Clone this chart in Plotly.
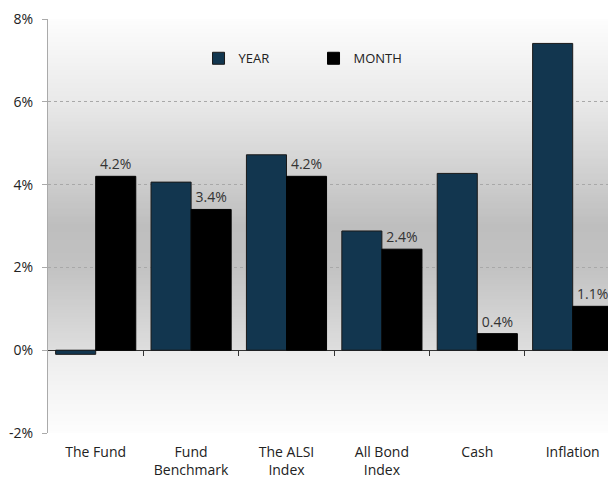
import plotly.graph_objects as go

categories = ["The Fund", "Fund<br>Benchmark", "The ALSI<br>Index", "All Bond<br>Index", "Cash", "Inflation"]
year_values = [-0.1, 4.06, 4.72, 2.88, 4.27, 7.41]
month_values = [4.2, 3.4, 4.2, 2.44, 0.4, 1.06]
month_labels = ["4.2%", "3.4%", "4.2%", "2.4%", "0.4%", "1.1%"]
y_ticks = [-2, 0, 2, 4, 6, 8]
y_tick_labels = ["-2%", "0%", "2%", "4%", "6%", "8%"]

FONT = "'Open Sans', Lato, sans-serif"

fig = go.Figure()
fig.add_trace(go.Bar(
    name="YEAR", x=categories, y=year_values,
    marker=dict(color="#12364f", line=dict(color="#1a1a1a", width=1)),
    hoverinfo="skip",
))
fig.add_trace(go.Bar(
    name="MONTH", x=categories, y=month_values,
    marker=dict(color="#000000", line=dict(color="#000000", width=1)),
    text=month_labels, textposition="outside", cliponaxis=False,
    textfont=dict(size=14, color="#333333", family=FONT),
    hoverinfo="skip",
))
# helper invisible trace for the tick axis at zero
fig.add_trace(go.Scatter(x=[None], y=[None], xaxis="x2", yaxis="y",
                         showlegend=False, hoverinfo="skip"))

# background gradient (styling only)
stops = [(-2.0, 253), (-1.0, 245), (-0.01, 236), (0.0, 222), (1.0, 208),
         (2.0, 194), (3.0, 190), (4.0, 204), (6.0, 233), (8.0, 253)]

def gray_at(v):
    for (a, ga), (b, gb) in zip(stops[:-1], stops[1:]):
        if a <= v <= b:
            t = (v - a) / (b - a) if b > a else 0
            return int(round(ga + (gb - ga) * t))
    return 255

shapes = []
step = 0.05
n = int(round(10 / step))
for i in range(n):
    y0 = -2 + i * step
    y1 = min(y0 + 2 * step, 8)
    g = gray_at(y0 + step / 2)
    shapes.append(dict(type="rect", xref="paper", yref="y", x0=0, x1=1,
                       y0=y0, y1=y1, layer="below", line=dict(width=0),
                       fillcolor=f"rgb({g},{g},{g})"))

fig.update_layout(
    width=608, height=475,
    margin=dict(l=40, r=0, t=11, b=50),
    paper_bgcolor="white", plot_bgcolor="white",
    barmode="group", bargap=0.16, bargroupgap=0,
    font=dict(family=FONT, size=14, color="#222222"),
    showlegend=True,
    legend=dict(orientation="h", x=0.265, y=0.905, xanchor="left", yanchor="middle",
                bgcolor="rgba(0,0,0,0)", font=dict(size=13, color="#222222"),
                itemwidth=30, entrywidth=70, entrywidthmode="pixels"),
    shapes=shapes,
    xaxis=dict(range=[-0.5, 5.454], showgrid=False, showline=False, ticks="",
               tickfont=dict(size=14, color="#222222"), zeroline=False,
               ticklabelstandoff=9, fixedrange=True),
    xaxis2=dict(range=[-0.5, 5.454], overlaying="x", anchor="free",
                position=(0 - (-2)) / 10, side="bottom",
                showgrid=False, showline=False, zeroline=False,
                tickmode="array", tickvals=[0.5, 1.5, 2.5, 3.5, 4.5],
                ticks="outside", ticklen=5, tickcolor="#333333", tickwidth=1,
                showticklabels=False),
    yaxis=dict(range=[-2, 8], tickmode="array", tickvals=y_ticks, ticktext=y_tick_labels,
               showgrid=True, gridcolor="#a8a8a8", griddash="dot", gridwidth=1,
               zeroline=True, zerolinecolor="#333333", zerolinewidth=1,
               showline=True, linecolor="#aaaaaa", linewidth=1,
               ticks="outside", ticklen=5, tickcolor="#aaaaaa",
               ticklabelstandoff=6,
               tickfont=dict(size=14, color="#222222")),
)

fig.write_html("out.html")
